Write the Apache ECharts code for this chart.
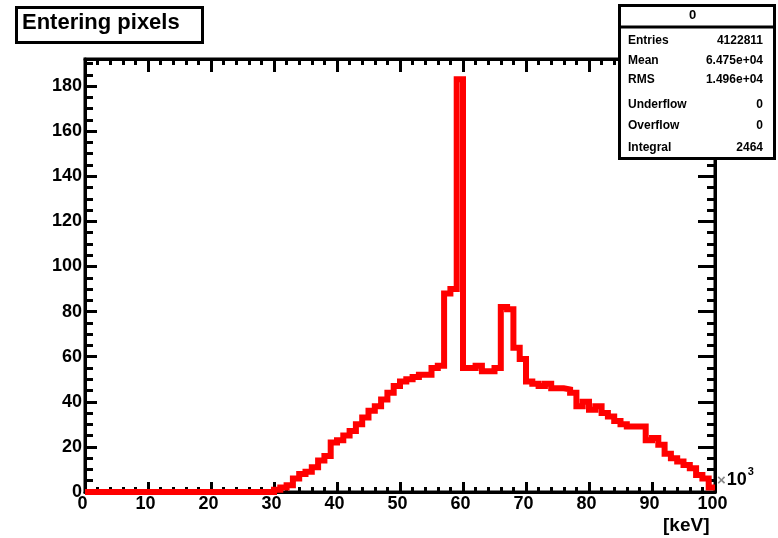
<!DOCTYPE html>
<html>
<head>
<meta charset="utf-8">
<script src="https://cdn.jsdelivr.net/npm/echarts@6/dist/echarts.min.js"></script>
<style>
html,body{margin:0;padding:0;background:#fff;}
#chart{width:778px;height:538px;}
</style>
</head>
<body>
<div id="chart"></div>
<script>
// Histogram "Entering pixels": 100 bins over 0..100 (x10^3 keV)
const counts = [
  0,0,0,0,0,0,0,0,0,0,
  0,0,0,0,0,0,0,0,0,0,
  0,0,0,0,0,0,0,0,0,0,
  1,2,3,6,8,9,11,14,16,22,
  23,25,27,30,33,36,38,41,44,47,
  49,50,51,52,52,55,56,88,90,183,
  55,55,56,53.5,53.5,55,82,81,64,59,
  49,48,47,48,46,46,45.5,44,38,40,
  36.5,38,35,33.5,31.5,30,29,29,29,23,
  24,21,17,15,13.5,12,10.5,7.5,6,2
];
const xTicks = [0,10,20,30,40,50,60,70,80,90,100];
const yTicks = [0,20,40,60,80,100,120,140,160,180];
const histTitle = "Entering pixels";
const statsName = "0";
const statsLabels = ["Entries","Mean","RMS","Underflow","Overflow","Integral"];
const statsValues = ["4122811","6.475e+04","1.496e+04","0","0","2464"];
const xUnit = "[keV]";

const lineData = counts.map((v,i)=>[i, v]);
lineData.push([counts.length, counts[counts.length-1]]);

const FONT = "Liberation Sans";
const chart = echarts.init(document.getElementById('chart'), null, {renderer:'canvas'});

function makeAxis(o){
  return {
    type:'value',
    min:o.min, max:o.max, interval:o.interval, position:o.position,
    axisLine:{show:true, onZero:false, lineStyle:{color:'#000', width:3}},
    axisTick:{show:true, inside:true, length:o.major, lineStyle:{color:'#000', width:3}},
    minorTick:{show:true, splitNumber:o.split, length:o.minor, lineStyle:{color:'#000', width:3}},
    splitLine:{show:false},
    minorSplitLine:{show:false},
    axisLabel:o.label || {show:false}
  };
}

const statsTexts = [];
const rowY = [42, 62, 81, 106, 127, 149];
statsLabels.forEach((l,i)=>{
  statsTexts.push({type:'text', left:628, top:rowY[i]-7, z:10,
    style:{text:l, font:'bold 12px "'+FONT+'"', fill:'#000'}});
  statsTexts.push({type:'text', right:778-763, top:rowY[i]-7, z:10,
    style:{text:statsValues[i], font:'bold 12px "'+FONT+'"', fill:'#000', align:'right'}});
});

chart.setOption({
  animation:false,
  backgroundColor:'#fff',
  grid:{left:85, right:63, top:59, bottom:46, show:true, borderColor:'#000', borderWidth:3, backgroundColor:'#fff'},
  xAxis:[
    makeAxis({min:0, max:100, interval:10, position:'bottom', major:10, minor:5, split:5,
      label:{show:true, color:'#000', fontFamily:FONT, fontWeight:'bold', fontSize:18, margin:3,
        padding:[0,5,0,0],
        formatter:(v)=> xTicks.indexOf(v)>=0 ? String(v) : ''}}),
    makeAxis({min:0, max:100, interval:10, position:'top', major:13, minor:6, split:5})
  ],
  yAxis:[
    makeAxis({min:0, max:192, interval:20, position:'left', major:12, minor:8, split:4,
      label:{show:true, color:'#000', fontFamily:FONT, fontWeight:'bold', fontSize:18, margin:3,
        showMaxLabel:false,
        formatter:(v)=> yTicks.indexOf(v)>=0 ? String(v) : ''}}),
    makeAxis({min:0, max:192, interval:20, position:'right', major:17, minor:8, split:4})
  ],
  series:[{
    type:'line',
    data:lineData,
    step:'end',
    showSymbol:false,
    symbol:'none',
    clip:true,
    z:5,
    lineStyle:{color:'#ff0000', width:6, join:'miter'}
  }],
  graphic:[
    {type:'rect', shape:{x:16.5, y:7.5, width:186, height:35}, z:10,
      style:{fill:'#fff', stroke:'#000', lineWidth:3}},
    {type:'text', left:22, top:12, z:11,
      style:{text:histTitle, font:'bold 22px "'+FONT+'"', fill:'#000'}},
    {type:'rect', shape:{x:619.5, y:5.5, width:155, height:153}, z:10,
      style:{fill:'#fff', stroke:'#000', lineWidth:3}},
    {type:'line', shape:{x1:619.5, y1:27, x2:774.5, y2:27}, z:11,
      style:{stroke:'#000', lineWidth:3}},
    {type:'text', left:689, top:9, z:11,
      style:{text:statsName, font:'bold 13px "'+FONT+'"', fill:'#000'}},
    ...statsTexts,
    {type:'text', left:717, top:466, z:11,
      style:{text:'{a|×}{b|10}{c|3}', rich:{
        a:{font:'bold 15px "'+FONT+'"', fill:'#888', padding:[8,1,0,0]},
        b:{font:'bold 18px "'+FONT+'"', fill:'#000', padding:[8,0,0,0]},
        c:{font:'bold 11px "'+FONT+'"', fill:'#000', padding:[0,0,10,1]}
      }}},
    {type:'text', left:663, top:516, z:11,
      style:{text:xUnit, font:'bold 19px "'+FONT+'"', fill:'#000'}}
  ]
});
</script>
</body>
</html>
